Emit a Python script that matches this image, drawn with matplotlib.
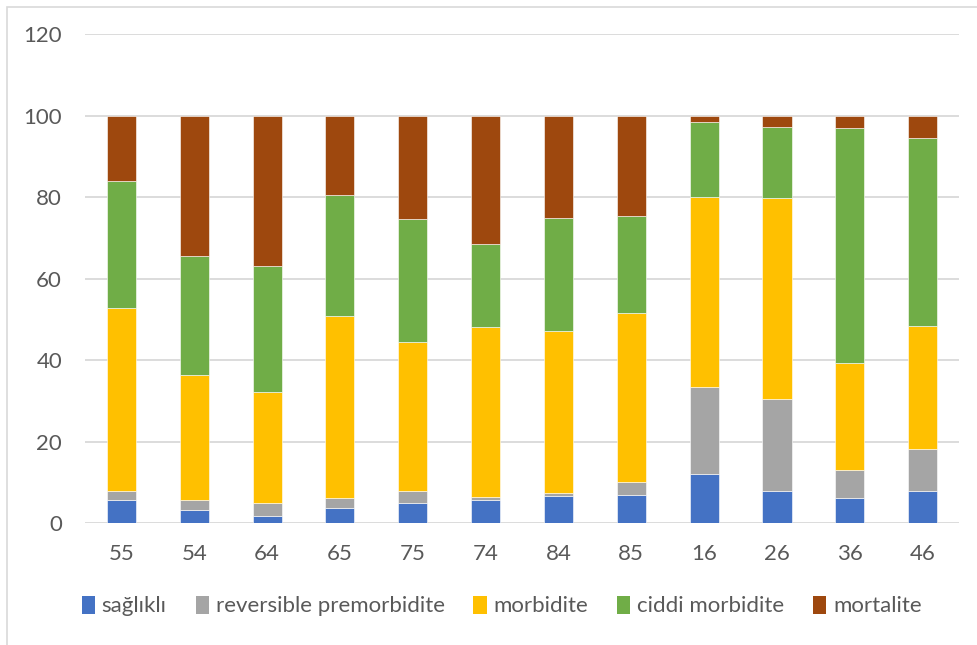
import matplotlib.pyplot as plt
from matplotlib.patches import Patch, Rectangle
import numpy as np

plt.rcParams['font.family'] = ['Lato', 'DejaVu Sans']

# gruplar ve her gruptaki yüzdeler (yığılmış)
gruplar = ['55', '54', '64', '65', '75', '74', '84', '85', '16', '26', '36', '46']
saglikli = [5.8, 3.2, 1.9, 3.7, 4.9, 5.8, 6.6, 7.0, 12.2, 7.9, 6.3, 7.9]
reversible = [2.05, 2.6, 3.0, 2.4, 3.1, 0.7, 0.8, 3.1, 21.2, 22.5, 6.7, 10.3]
morbidite = [45.05, 30.6, 27.2, 44.8, 36.4, 41.7, 39.9, 41.6, 46.7, 49.4, 26.4, 30.1]
ciddi = [31.0, 29.3, 31.0, 29.6, 30.3, 20.3, 27.6, 23.7, 18.3, 17.4, 57.7, 46.3]
mortalite = [16.1, 34.3, 36.9, 19.5, 25.3, 31.5, 25.1, 24.6, 1.6, 2.8, 2.9, 5.4]

seriler = ['sağlıklı', 'reversible premorbidite', 'morbidite', 'ciddi morbidite', 'mortalite']
renkler = ['#4472C4', '#A5A5A5', '#FFC000', '#70AD47', '#9E480E']
veriler = [saglikli, reversible, morbidite, ciddi, mortalite]

fig = plt.figure(figsize=(9.78, 6.45), dpi=100)
ax = fig.add_axes([0.0869, 0.1887, 0.8937, 0.7583])

x = np.arange(len(gruplar))
alt = np.zeros(len(gruplar))
for ad, renk, deger in zip(seriler, renkler, veriler):
    deger = np.array(deger)
    ax.bar(x, deger, bottom=alt, width=0.4, color=renk, edgecolor='white',
           linewidth=0.4, zorder=3)
    alt += deger

ax.set_xlim(-0.5, len(gruplar) - 0.5)
ax.set_ylim(0, 120)
ax.set_yticks(range(0, 121, 20))
ax.set_xticks(x)
ax.set_xticklabels(gruplar)
ax.yaxis.grid(True, color='#D9D9D9', linewidth=1.3, zorder=0)
ax.tick_params(axis='both', length=0, labelsize=16, colors='#595959')
ax.tick_params(axis='y', pad=16.5)
ax.tick_params(axis='x', pad=15)
for s in ax.spines.values():
    s.set_visible(False)

# grafik alanı çerçevesi
fig.patches.append(Rectangle((7 / 978, -0.1), 1.2, 1.1 - 7 / 645, transform=fig.transFigure,
                             fill=False, edgecolor='#D9D9D9', linewidth=1.2))

tutamaklar = [Patch(facecolor=r, edgecolor='none') for r in renkler]
fig.legend(tutamaklar, seriler, loc='center', bbox_to_anchor=(0.513, 0.0605), ncol=5,
           frameon=False, fontsize=16, labelcolor='#595959', handlelength=0.6,
           handleheight=0.9, handletextpad=0.3, columnspacing=1.3)

fig.savefig('out.png', dpi=100)
